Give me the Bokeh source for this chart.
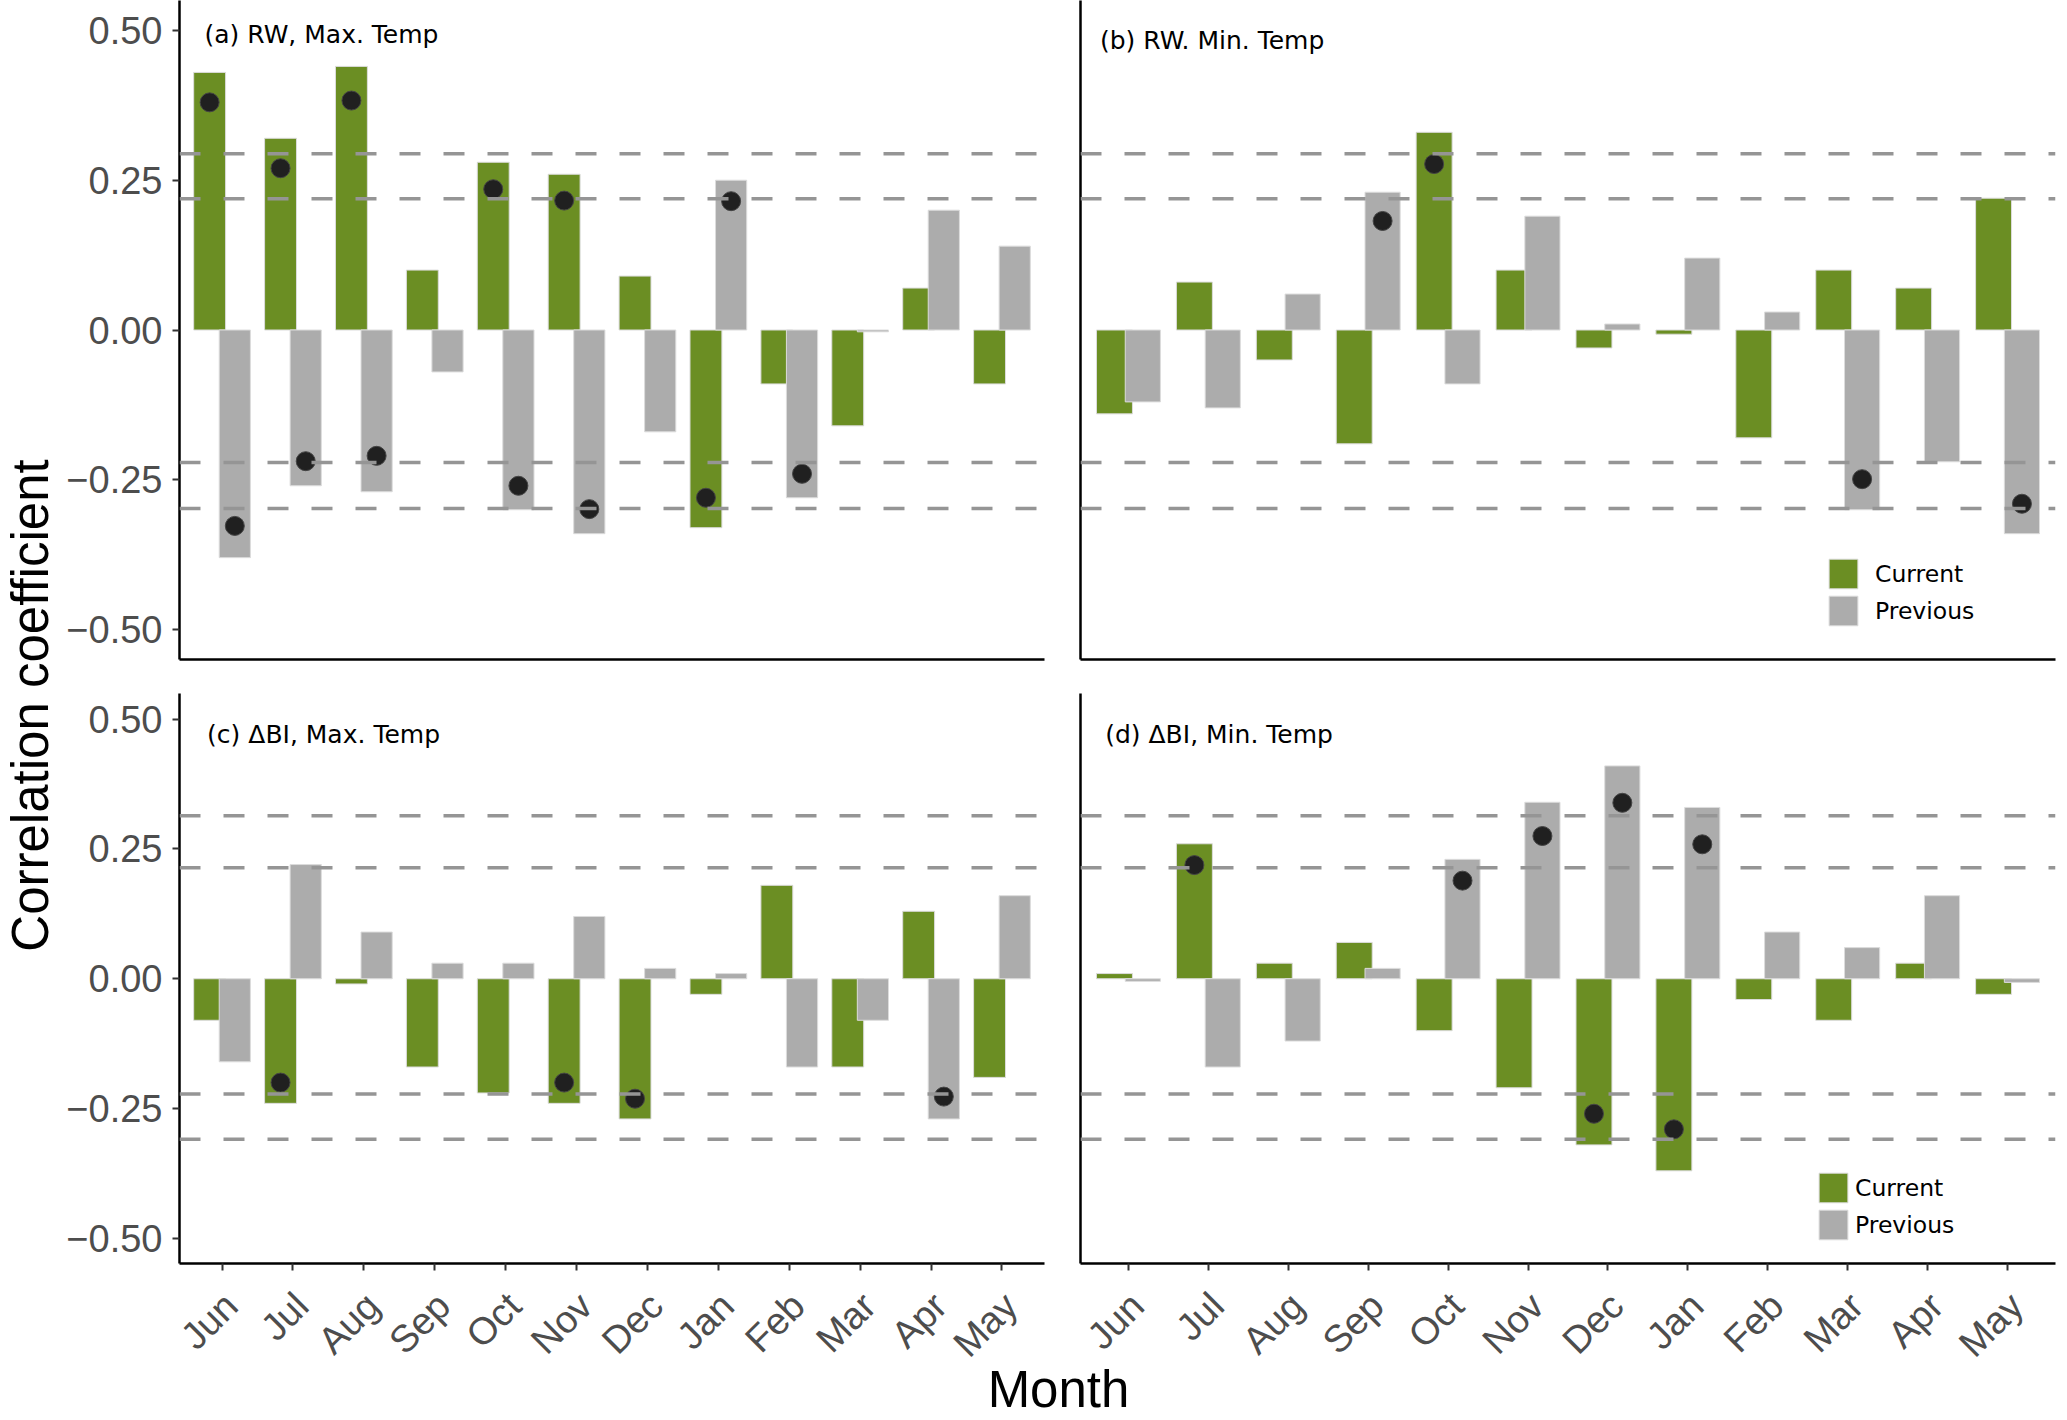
from math import pi
from bokeh.plotting import figure
from bokeh.models import (Range1d, FixedTicker, Span, ColumnDataSource,
                          Legend, LegendItem)
from bokeh.layouts import row, column
from bokeh.transform import dodge
from bokeh.core.properties import value
from bokeh.embed import file_html
from bokeh.resources import INLINE

# ---------------- data ----------------
months = ["Jun", "Jul", "Aug", "Sep", "Oct", "Nov", "Dec", "Jan", "Feb", "Mar", "Apr", "May"]
y_ticks = [-0.5, -0.25, 0.0, 0.25, 0.5]
y_tick_labels = {-0.5: "\u22120.50", -0.25: "\u22120.25", 0.0: "0.00", 0.25: "0.25", 0.5: "0.50"}

# (a) RW, Max. Temp
a_current = [0.43, 0.32, 0.44, 0.10, 0.28, 0.26, 0.09, -0.33, -0.09, -0.16, 0.07, -0.09]
a_previous = [-0.38, -0.26, -0.27, -0.07, -0.30, -0.34, -0.17, 0.25, -0.28, -0.003, 0.20, 0.14]
a_current_sig = [0.38, 0.27, 0.383, None, 0.235, 0.216, None, -0.28, None, None, None, None]
a_previous_sig = [-0.327, -0.219, -0.21, None, -0.26, -0.299, None, 0.215, -0.24, None, None, None]

# (b) RW. Min. Temp
b_current = [-0.14, 0.08, -0.05, -0.19, 0.33, 0.10, -0.03, -0.007, -0.18, 0.10, 0.07, 0.22]
b_previous = [-0.12, -0.13, 0.06, 0.23, -0.09, 0.19, 0.01, 0.12, 0.03, -0.30, -0.22, -0.34]
b_current_sig = [None, None, None, None, 0.277, None, None, None, None, None, None, None]
b_previous_sig = [None, None, None, 0.182, None, None, None, None, None, -0.249, None, -0.29]

# (c) dBI, Max. Temp
c_current = [-0.08, -0.24, -0.01, -0.17, -0.22, -0.24, -0.27, -0.03, 0.18, -0.17, 0.13, -0.19]
c_previous = [-0.16, 0.22, 0.09, 0.03, 0.03, 0.12, 0.02, 0.01, -0.17, -0.08, -0.27, 0.16]
c_current_sig = [None, -0.20, None, None, None, -0.20, -0.231, None, None, None, None, None]
c_previous_sig = [None, None, None, None, None, None, None, None, None, None, -0.227, None]

# (d) dBI, Min. Temp
d_current = [0.01, 0.26, 0.03, 0.07, -0.10, -0.21, -0.32, -0.37, -0.04, -0.08, 0.03, -0.03]
d_previous = [-0.005, -0.17, -0.12, 0.02, 0.23, 0.34, 0.41, 0.33, 0.09, 0.06, 0.16, -0.007]
d_current_sig = [None, 0.219, None, None, None, None, -0.26, -0.29, None, None, None, None]
d_previous_sig = [None, None, None, None, 0.189, 0.275, 0.339, 0.259, None, None, None, None]

# significance thresholds (dashed lines)
rw_thresholds = [0.294, 0.219, -0.221, -0.298]
bi_thresholds = [0.314, 0.214, -0.222, -0.309]

titles = ["(a) RW, Max. Temp", "(b) RW. Min. Temp", "(c) \u0394BI, Max. Temp", "(d) \u0394BI, Min. Temp"]

# ---------------- style / layout ----------------
GREEN = "#6b8e23"
GREY = "#acacac"
DOT = "#202020"
DASH = "#959595"
TICK_COLOR = "#4d4d4d"
CUR_OFF, PREV_OFF = -0.175, 0.18
X_LO, X_HI = 0.4, 12.6

YLAB_W = 60
LEFT_W, LEFT_BL, LEFT_BR = 1002, 119, 18
RIGHT_W, RIGHT_BL, RIGHT_BR = 997, 18, 4
TOP_H, BOT_H, STRIP_H = 676, 597, 145

idx = list(range(1, len(months) + 1))


def make_panel(cur, prev, cur_sig, prev_sig, thresholds, title, tpos, yr,
               width, borders, height, yticks_on, xticks_on, legend_cfg=None):
    bl, br, bt, bb = borders
    p = figure(width=width, height=height, x_range=Range1d(X_LO, X_HI),
               y_range=Range1d(*yr), output_backend="svg", toolbar_location=None,
               min_border_left=bl, min_border_right=br, min_border_top=bt,
               min_border_bottom=bb)
    p.outline_line_color = None
    p.grid.visible = False

    src = ColumnDataSource(dict(x=idx, cur=cur, prev=prev))
    r_cur = p.vbar(x=dodge("x", CUR_OFF, range=p.x_range), top="cur", bottom=0, width=0.45,
                   source=src, fill_color=GREEN, line_color="#dcdcdc", line_width=1)
    r_prev = p.vbar(x=dodge("x", PREV_OFF, range=p.x_range), top="prev", bottom=0, width=0.44,
                    source=src, fill_color=GREY, line_color="#dcdcdc", line_width=1)

    cs = [(i + CUR_OFF, v) for i, v in zip(idx, cur_sig) if v is not None]
    ps = [(i + PREV_OFF, v) for i, v in zip(idx, prev_sig) if v is not None]
    pts = cs + ps
    if pts:
        p.scatter(x=[q[0] for q in pts], y=[q[1] for q in pts], size=19,
                  fill_color=DOT, line_color="#444444", line_width=1)

    for t in thresholds:
        p.add_layout(Span(location=t, dimension="width", line_color=DASH,
                          line_width=3.5, line_dash="21 23"))

    p.text(x=[tpos[0]], y=[tpos[1]], text=[title], text_font=value("DejaVu Sans"),
           text_font_size="25px", text_color="black", text_baseline="middle",
           text_align="left")

    for ax in p.xaxis + p.yaxis:
        ax.axis_line_color = "black"
        ax.axis_line_width = 2.5
        ax.minor_tick_line_color = None
        ax.major_tick_in = 0
        ax.major_tick_out = 7
        ax.major_tick_line_color = "#333333"
        ax.major_tick_line_width = 2

    if xticks_on:
        p.xaxis.ticker = FixedTicker(ticks=idx)
        p.xaxis.major_label_overrides = {float(i): "" for i in idx}
        p.xaxis.major_label_text_font_size = "1px"
        p.xaxis.major_label_standoff = 0
    else:
        p.xaxis.ticker = FixedTicker(ticks=[])

    if yticks_on:
        p.yaxis.ticker = FixedTicker(ticks=y_ticks)
        p.yaxis.major_label_overrides = y_tick_labels
        p.yaxis.major_label_text_font = "Liberation Sans"
        p.yaxis.major_label_text_font_size = "38px"
        p.yaxis.major_label_text_color = TICK_COLOR
        p.yaxis.major_label_standoff = 10
    else:
        p.yaxis.ticker = FixedTicker(ticks=[])

    if legend_cfg is not None:
        loc, standoff = legend_cfg
        leg = Legend(items=[LegendItem(label="Current", renderers=[r_cur]),
                            LegendItem(label="Previous", renderers=[r_prev])],
                     location=loc, border_line_color=None, background_fill_alpha=0,
                     padding=0, margin=0, spacing=-7, glyph_width=36, glyph_height=37,
                     label_height=37, label_standoff=standoff,
                     label_text_font="DejaVu Sans", label_text_font_size="23.5px",
                     label_text_color="black")
        p.add_layout(leg)
    return p


top_yr = (-0.550, 0.550)
bot_yr = (-0.5485, 0.5495)

pa = make_panel(a_current, a_previous, a_current_sig, a_previous_sig, rw_thresholds,
                titles[0], (0.7526, 0.4933), top_yr, LEFT_W, (LEFT_BL, LEFT_BR, 0, 17), TOP_H,
                True, False)
pb = make_panel(b_current, b_previous, b_current_sig, b_previous_sig, rw_thresholds,
                titles[1], (0.644, 0.4825), top_yr, RIGHT_W, (RIGHT_BL, RIGHT_BR, 0, 17), TOP_H,
                False, False, legend_cfg=((745, 30), 14))
pc = make_panel(c_current, c_previous, c_current_sig, c_previous_sig, bi_thresholds,
                titles[2], (0.789, 0.471), bot_yr, LEFT_W, (LEFT_BL, LEFT_BR, 17, 10), BOT_H,
                True, True)
pd_ = make_panel(d_current, d_previous, d_current_sig, d_previous_sig, bi_thresholds,
                 titles[3], (0.709, 0.471), bot_yr, RIGHT_W, (RIGHT_BL, RIGHT_BR, 17, 10), BOT_H,
                 False, True, legend_cfg=((735, 20), 4))

# ---- strip below the bottom panels: month tick labels + "Month" title ----
EXTRA_L = 40                                   # strip frame starts 40px left of panel (c) frame
left_frame_w = LEFT_W - LEFT_BL - LEFT_BR      # 865
right_frame_w = RIGHT_W - RIGHT_BL - RIGHT_BR  # 975
strip_w = LEFT_W + RIGHT_W
strip_bl = LEFT_BL - EXTRA_L
strip_frame_w = strip_w - strip_bl - RIGHT_BR
ppu_l = left_frame_w / (X_HI - X_LO)
ppu_r = right_frame_w / (X_HI - X_LO)
gap_to_right = EXTRA_L + left_frame_w + LEFT_BR + RIGHT_BL   # from strip frame left to panel (d) frame

xl0 = X_LO - EXTRA_L / ppu_l
strip = figure(width=strip_w, height=STRIP_H,
               x_range=Range1d(xl0, xl0 + strip_frame_w / ppu_l),
               y_range=Range1d(0, STRIP_H), output_backend="svg", toolbar_location=None,
               min_border_left=strip_bl, min_border_right=RIGHT_BR, min_border_top=0,
               min_border_bottom=0, x_axis_location=None, y_axis_location=None)
strip.extra_x_ranges = {"right": Range1d(X_LO - gap_to_right / ppu_r, X_HI),
                        "px": Range1d(0, strip_frame_w)}
strip.outline_line_color = None
strip.grid.visible = False
label_kw = dict(angle=pi / 4, x_offset=-6, text_align="right", text_baseline="top",
                text_font=value("Liberation Sans"), text_font_size="38px", text_color=TICK_COLOR)
strip.text(x=idx, y=[STRIP_H - 11] * len(idx), text=months, **label_kw)
strip.text(x=idx, y=[STRIP_H - 11] * len(idx), text=months, x_range_name="right", **label_kw)
strip.text(x=[1058 - (YLAB_W + strip_bl)], y=[29], text=["Month"], x_range_name="px",
           text_align="center", text_baseline="middle", text_font=value("Liberation Sans"),
           text_font_size="51px", text_color="black")

# y-axis title
total_h = TOP_H + BOT_H + STRIP_H
ylab = figure(width=YLAB_W, height=total_h, x_range=Range1d(0, 1),
              y_range=Range1d(0, 1), output_backend="svg", toolbar_location=None,
              min_border=0, x_axis_location=None, y_axis_location=None)
ylab.outline_line_color = None
ylab.grid.visible = False
ylab.text(x=[0.5], y=[(total_h - 705) / total_h], text=["Correlation coefficient"], angle=pi / 2,
          text_align="center", text_baseline="middle",
          text_font=value("Liberation Sans"), text_font_size="51px", text_color="black")

layout = row(ylab, column(row(pa, pb), row(pc, pd_), strip))

open("out.html", "w").write(file_html(layout, INLINE))
